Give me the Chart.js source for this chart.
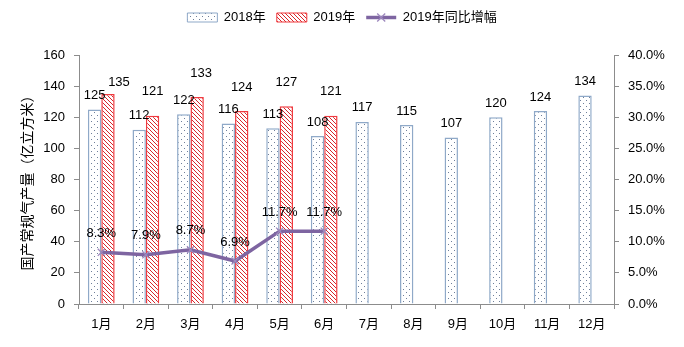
<!DOCTYPE html>
<html>
<head>
<meta charset="utf-8">
<script src="https://cdn.jsdelivr.net/npm/chart.js@4"></script>
<style>
  body { margin: 0; background: #fff; }
</style>
</head>
<body>
<canvas id="gasChart" width="684" height="347"></canvas>
<script>
// monthly output, 100 million m3
const months = ["1月","2月","3月","4月","5月","6月","7月","8月","9月","10月","11月","12月"];
const output2018 = [125,112,122,116,113,108,117,115,107,120,124,134];
const output2019 = [135,121,133,124,127,121,null,null,null,null,null,null];
const growth2019 = [8.3,7.9,8.7,6.9,11.7,11.7,null,null,null,null,null,null];
const leftTicks = [0,20,40,60,80,100,120,140,160];
const rightTicks = [0,5,10,15,20,25,30,35,40];

const FONT = "'Liberation Sans', 'Noto Sans CJK SC', sans-serif";

function dotPattern(){
  const c = document.createElement("canvas");
  c.width = 6; c.height = 6;
  const g = c.getContext("2d");
  g.fillStyle = "#fff";
  g.fillRect(0,0,6,6);
  g.fillStyle = "#6f7f9a";
  g.fillRect(1,1,1,1);
  g.fillRect(4,4,1,1);
  return g.createPattern(c, "repeat");
}

function hatchPattern(){
  const c = document.createElement("canvas");
  c.width = 4; c.height = 4;
  const g = c.getContext("2d");
  g.fillStyle = "#fff";
  g.fillRect(0,0,4,4);
  g.strokeStyle = "#d8262b";
  g.lineWidth = 1;
  g.beginPath();
  g.moveTo(-1,-1); g.lineTo(5,5);
  g.moveTo(-1,3); g.lineTo(1,5);
  g.moveTo(3,-1); g.lineTo(5,1);
  g.stroke();
  return g.createPattern(c, "repeat");
}

// value labels above bars and line points
const valueLabels = {
  id: "valueLabels",
  afterDatasetsDraw(chart){
    const ctx = chart.ctx;
    ctx.save();
    ctx.font = "13px " + FONT;
    ctx.fillStyle = "#000";
    ctx.textAlign = "center";
    ctx.textBaseline = "middle";
    const nudge2019 = [11,0,4,0,0,0];
    chart.data.datasets.forEach((ds, di) => {
      const meta = chart.getDatasetMeta(di);
      meta.data.forEach((el, i) => {
        const v = ds.data[i];
        if (v == null) return;
        if (di === 0) ctx.fillText(String(v), el.x, el.y - 14);
        else if (di === 1) ctx.fillText(String(v), el.x + (nudge2019[i] || 0), el.y - (i === 0 ? 11 : 24));
        else ctx.fillText(v.toFixed(1) + "%", el.x, el.y - 19);
      });
    });
    ctx.restore();
  }
};

// legend height fixed + cross on the line legend item
const legendTweaks = {
  id: "legendTweaks",
  beforeInit(chart){
    const lg = chart.legend;
    if (!lg) return;
    const fit = lg.fit;
    lg.fit = function(){
      fit.call(this);
      this.height = 55;
    };
  },
  afterDraw(chart){
    const lg = chart.legend;
    if (!lg || !lg.legendHitBoxes) return;
    const idx = lg.legendItems.findIndex(it => it.datasetIndex === 2);
    const hb = lg.legendHitBoxes[idx];
    if (!hb) return;
    const cx = hb.left + 15, cy = hb.top + hb.height/2;
    const ctx = chart.ctx;
    ctx.save();
    ctx.strokeStyle = "#9d88bd";
    ctx.lineWidth = 1.3;
    ctx.beginPath();
    ctx.moveTo(cx-4, cy-4); ctx.lineTo(cx+4, cy+4);
    ctx.moveTo(cx+4, cy-4); ctx.lineTo(cx-4, cy+4);
    ctx.stroke();
    ctx.restore();
  }
};

function init(){
  const ctx = document.getElementById("gasChart").getContext("2d");
  const axisGray = "#8c8c8c";
  new Chart(ctx, {
    type: "bar",
    data: {
      labels: months,
      datasets: [
        {
          label: "2018年",
          data: output2018,
          backgroundColor: dotPattern(),
          borderColor: "#8fa9c8",
          borderWidth: 1.5,
          yAxisID: "y",
          order: 1,
          categoryPercentage: 0.6,
          barPercentage: 1.0
        },
        {
          label: "2019年",
          data: output2019,
          backgroundColor: hatchPattern(),
          borderColor: "#f03a3f",
          borderWidth: 1.5,
          yAxisID: "y",
          order: 1,
          categoryPercentage: 0.6,
          barPercentage: 1.0
        },
        {
          type: "line",
          label: "2019年同比增幅",
          data: growth2019,
          borderColor: "#7e65a1",
          backgroundColor: "#7e65a1",
          borderWidth: 3.5,
          tension: 0,
          yAxisID: "y2",
          order: 0,
          pointStyle: "crossRot",
          pointRadius: 5,
          pointBorderColor: "#9d88bd",
          pointBorderWidth: 1.3
        }
      ]
    },
    options: {
      responsive: false,
      animation: false,
      layout: { padding: 0 },
      plugins: {
        tooltip: { enabled: false },
        legend: {
          position: "top",
          labels: {
            usePointStyle: true,
            pointStyleWidth: 30,
            boxHeight: 9,
            padding: 11,
            color: "#000",
            font: { family: FONT, size: 13 },
            sort: (a, b) => a.datasetIndex - b.datasetIndex,
            generateLabels(chart){
              const items = Chart.defaults.plugins.legend.labels.generateLabels(chart);
              items.forEach(it => {
                if (it.datasetIndex === 2) {
                  it.pointStyle = "line";
                  it.lineWidth = 3.5;
                  it.strokeStyle = "#7e65a1";
                } else {
                  it.pointStyle = "rect";
                  it.lineWidth = 1;
                }
              });
              return items;
            }
          }
        }
      },
      scales: {
        x: {
          offset: true,
          grid: { offset: true, drawOnChartArea: false, drawTicks: true, tickLength: 5, color: axisGray },
          border: { color: axisGray },
          ticks: { color: "#000", font: { family: FONT, size: 13 }, padding: 8 },
          afterFit(s){ s.height = 43; }
        },
        y: {
          position: "left",
          min: 0, max: 160,
          afterBuildTicks(s){ s.ticks = leftTicks.map(v => ({ value: v })); },
          grid: { drawOnChartArea: false, drawTicks: true, tickLength: 5, color: axisGray },
          border: { color: axisGray },
          ticks: { color: "#000", font: { family: FONT, size: 13 }, padding: 9 },
          title: {
            display: true,
            text: "国产常规气产量（亿立方米）",
            color: "#000",
            font: { family: "'Noto Sans CJK SC', sans-serif", size: 14 },
            padding: { top: 18, bottom: 0 }
          },
          afterFit(s){ s.width = 79; }
        },
        y2: {
          position: "right",
          min: 0, max: 40,
          afterBuildTicks(s){ s.ticks = rightTicks.map(v => ({ value: v })); },
          grid: { drawOnChartArea: false, drawTicks: true, tickLength: 5, color: axisGray },
          border: { color: axisGray },
          ticks: {
            color: "#000",
            font: { family: FONT, size: 13 },
            padding: 9,
            callback: v => v.toFixed(1) + "%"
          },
          afterFit(s){ s.width = 70; }
        }
      }
    },
    plugins: [valueLabels, legendTweaks]
  });
}

window.addEventListener("load", init);
</script>
</body>
</html>
